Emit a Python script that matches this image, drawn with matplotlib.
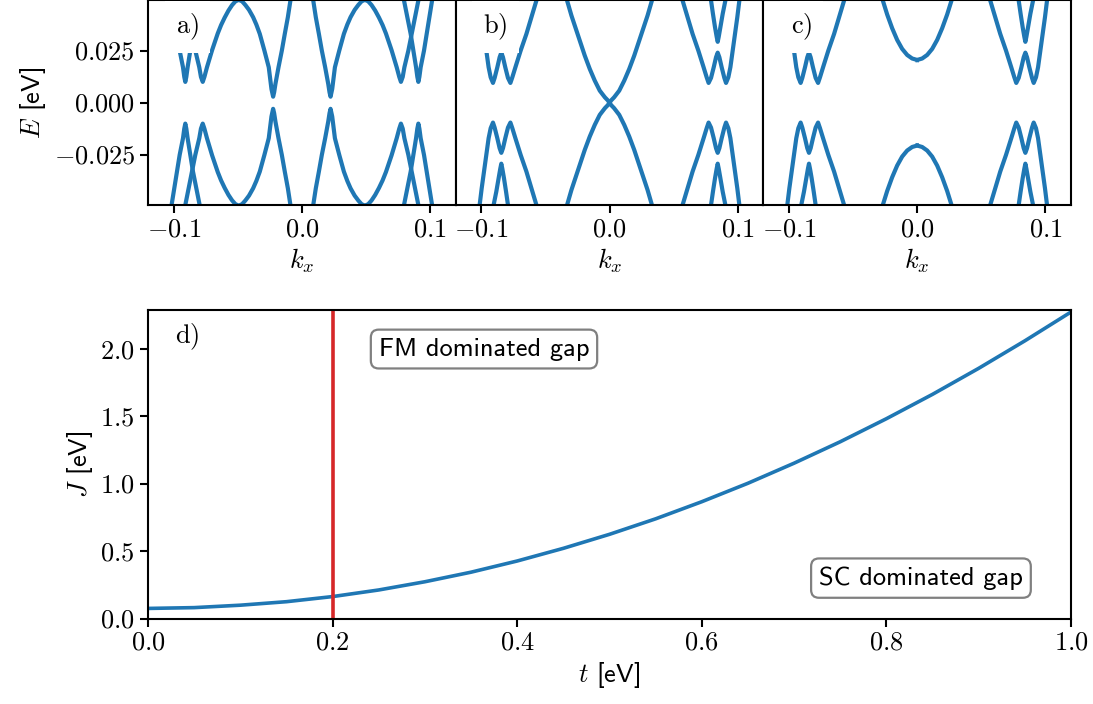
import numpy as np
import matplotlib
matplotlib.use("Agg")
import matplotlib.pyplot as plt
from matplotlib.ticker import FuncFormatter

plt.rcParams['mathtext.fontset'] = 'cm'
plt.rcParams['font.family'] = ['cmss10', 'DejaVu Sans']
plt.rcParams['font.size'] = 19
plt.rcParams['axes.linewidth'] = 1.5
plt.rcParams['xtick.major.width'] = 1.5
plt.rcParams['ytick.major.width'] = 1.5
plt.rcParams['xtick.major.size'] = 6
plt.rcParams['ytick.major.size'] = 6

blue = '#1f77b4'
red = '#d62728'

# band branches read for k >= 0, E >= 0 (spectrum is symmetric in k and E)
# panel a
a_band1_k = [0.0089, 0.0109, 0.0133, 0.0156, 0.0182, 0.0206, 0.0216, 0.0224, 0.0237, 0.0258,
             0.0292, 0.0328, 0.0355, 0.0380, 0.0412, 0.0440, 0.0466, 0.0492, 0.0518, 0.0544,
             0.0572, 0.0602, 0.0630, 0.0656, 0.0700, 0.0740, 0.0760, 0.0773, 0.0787, 0.0800,
             0.0831, 0.0857, 0.0883, 0.0909]
a_band1_E = [0.0490, 0.0410, 0.0330, 0.0250, 0.0170, 0.0090, 0.0050, 0.0029, 0.0066, 0.0170,
             0.0250, 0.0330, 0.0375, 0.0410, 0.0445, 0.0468, 0.0486, 0.0493, 0.0486, 0.0468,
             0.0442, 0.0408, 0.0372, 0.0332, 0.0252, 0.0170, 0.0124, 0.0100, 0.0124, 0.0170,
             0.0250, 0.0330, 0.0410, 0.0490]
a_band2_k = [0.0797, 0.0823, 0.0849, 0.0870, 0.0891, 0.0901, 0.0909, 0.0917, 0.0927, 0.0953,
             0.0974, 0.0995, 0.1016]
a_band2_E = [0.0490, 0.0410, 0.0330, 0.0250, 0.0170, 0.0124, 0.0100, 0.0124, 0.0170, 0.0250,
             0.0330, 0.0410, 0.0490]

# panel b, central band
b_center_k = [0.0, 0.0036, 0.0076, 0.0115, 0.0154, 0.0193, 0.0232, 0.0271, 0.0297, 0.0331]
b_center_E = [0.0003, 0.0026, 0.0058, 0.0106, 0.0162, 0.0226, 0.0298, 0.0370, 0.0418, 0.0490]

# panel c, central band
c_center_k = [0.0, 0.0039, 0.0078, 0.0117, 0.0156, 0.0195, 0.0234, 0.0268]
c_center_E = [0.0205, 0.0212, 0.0229, 0.0258, 0.0301, 0.0357, 0.0423, 0.0490]

# panels b and c, outer W band and V band
w_band_k = [0.0570, 0.0609, 0.0648, 0.0693, 0.0734, 0.0758, 0.0773, 0.0792, 0.0813, 0.0831,
            0.0844, 0.0857, 0.0875, 0.0896, 0.0909, 0.0927, 0.0943, 0.0961, 0.0979, 0.0997,
            0.1013]
w_band_E = [0.0490, 0.0410, 0.0330, 0.0250, 0.0170, 0.0122, 0.0095, 0.0119, 0.0170, 0.0218,
            0.0240, 0.0218, 0.0170, 0.0119, 0.0095, 0.0122, 0.0170, 0.0250, 0.0330, 0.0410,
            0.0490]
v_band_k = [0.0792, 0.0807, 0.0823, 0.0836, 0.0844, 0.0852, 0.0865, 0.0883, 0.0904]
v_band_E = [0.0490, 0.0426, 0.0362, 0.0316, 0.0292, 0.0316, 0.0362, 0.0426, 0.0490]

# panel d
t_vals = [0.00, 0.05, 0.10, 0.15, 0.20, 0.25, 0.30, 0.35, 0.40, 0.45, 0.50,
          0.55, 0.60, 0.65, 0.70, 0.75, 0.80, 0.85, 0.90, 0.95, 1.00]
J_vals = [0.075, 0.081, 0.099, 0.125, 0.163, 0.212, 0.273, 0.344, 0.427, 0.521, 0.625,
          0.740, 0.867, 1.004, 1.153, 1.312, 1.483, 1.664, 1.857, 2.061, 2.275]
t_critical = 0.2

panels = {
    'a': [(a_band1_k, a_band1_E), (a_band2_k, a_band2_E)],
    'b': [(b_center_k, b_center_E), (w_band_k, w_band_E), (v_band_k, v_band_E)],
    'c': [(c_center_k, c_center_E), (w_band_k, w_band_E), (v_band_k, v_band_E)],
}


def mathfmt(fmt):
    return FuncFormatter(lambda v, pos: '$' + (fmt % v) + '$')


fig = plt.figure(figsize=(10.93, 7.04), dpi=100)
L, R = 148 / 1093, 1071 / 1093
w = (R - L) / 3

for i, (name, bands) in enumerate(panels.items()):
    ax = fig.add_axes([L + i * w, 0.7088, w, 0.2905])
    for k, E in bands:
        k = np.asarray(k)
        E = np.asarray(E)
        for sk in (1, -1):
            for sE in (1, -1):
                ax.plot(sk * k, sE * E, color=blue, lw=3.0, solid_joinstyle='round')
    ax.set_xlim(-0.12, 0.12)
    ax.set_ylim(-0.049, 0.049)
    ax.set_xticks([-0.1, 0.0, 0.1])
    ax.xaxis.set_major_formatter(mathfmt('%.1f'))
    ax.set_xlabel(r'$k_x$')
    if i == 0:
        ax.set_yticks([-0.025, 0.0, 0.025])
        ax.yaxis.set_major_formatter(mathfmt('%.3f'))
        ax.set_ylabel(r'$E$ [eV]')
    else:
        ax.set_yticks([])
    ax.text(0.09, 0.87, r'$\mathrm{' + name + ')}$', transform=ax.transAxes,
            ha='left', va='center',
            bbox=dict(facecolor='white', edgecolor='none', pad=8))

axd = fig.add_axes([L, 0.1214, R - L, 0.4383])
axd.plot(t_vals, J_vals, color=blue, lw=2.6)
axd.axvline(t_critical, color=red, lw=2.6)
axd.set_xlim(0, 1)
axd.set_ylim(0, 2.29)
axd.set_xticks(np.arange(0, 1.01, 0.2))
axd.set_yticks(np.arange(0, 2.01, 0.5))
axd.xaxis.set_major_formatter(mathfmt('%.1f'))
axd.yaxis.set_major_formatter(mathfmt('%.1f'))
axd.set_xlabel(r'$t$ [eV]')
axd.set_ylabel(r'$J$ [eV]')
axd.text(0.029, 0.912, r'$\mathrm{d)}$', transform=axd.transAxes, ha='left', va='center')
box = dict(boxstyle='round,pad=0.3', facecolor='white', edgecolor='gray', linewidth=1.6)
axd.text(0.25, 2.0, 'FM dominated gap', ha='left', va='center', bbox=box)
axd.text(0.727, 0.30, 'SC dominated gap', ha='left', va='center', bbox=box)

fig.savefig('out.png', dpi=100)
